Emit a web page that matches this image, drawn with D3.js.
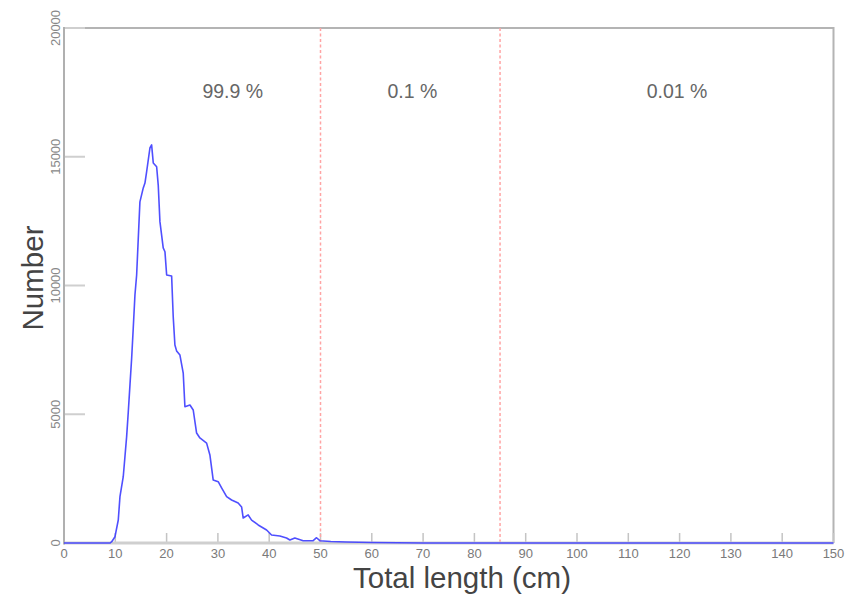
<!DOCTYPE html>
<html>
<head>
<meta charset="utf-8">
<script src="https://cdn.jsdelivr.net/npm/d3@7"></script>
<style>
  html, body { margin: 0; padding: 0; background: #fff; }
  svg { display: block; font-family: "Liberation Sans", Arial, sans-serif; }
</style>
</head>
<body>
<svg id="chart" width="851" height="600"></svg>
<script>
// ---- data ----
const lengthCm = [0, 9, 9.3, 9.94, 10.58, 10.91, 11.55, 11.88, 12.21, 12.53, 12.86, 13.19, 13.5, 13.83, 14.16,
  14.8, 15.45, 15.78, 16.11, 16.75, 17.08, 17.4, 18.06, 18.37, 18.7, 19.03, 19.34, 19.68, 20.01, 20.98,
  21.29, 21.62, 21.95, 22.6, 23.24, 23.57, 24.55, 25.19, 25.85, 26.49, 27.8, 28.44, 29.08, 30.06, 30.72,
  31.7, 32.67, 33.95, 34.62, 34.93, 35.9, 36.57, 37.85, 39.49, 40.46, 42.08, 43.38, 44.03, 45.0, 46.62,
  48.57, 49.23, 49.87, 52, 55, 60, 65, 70, 150];
const counts = [0, 0, 50, 245, 893, 1800, 2575, 3350, 4130, 5090, 6140, 7185, 8350, 9630, 10410,
  13250, 13790, 13980, 14420, 15340, 15460, 14760, 14610, 13900, 12480, 11960, 11460, 11310, 10410, 10370,
  8790, 7690, 7460, 7300, 6600, 5290, 5360, 5165, 4270, 4080, 3880, 3420, 2450, 2380, 2140,
  1800, 1670, 1550, 1400, 970, 1090, 890, 700, 505, 310, 270, 195, 115, 195, 90,
  90, 205, 90, 60, 40, 20, 10, 0, 0];
const xTickValues = [0, 10, 20, 30, 40, 50, 60, 70, 80, 90, 100, 110, 120, 130, 140, 150];
const yTickValues = [0, 5000, 10000, 15000, 20000];
const boundariesCm = [50, 85];
const regionLabels = ["99.9 %", "0.1 %", "0.01 %"];
const regionLabelAtCm = [32.9, 67.9, 119.5];
const xTitle = "Total length (cm)";
const yTitle = "Number";

// ---- layout ----
const svg = d3.select("#chart");
const mLeft = 64, mRight = 833.5, mTop = 28, mBottom = 543;

const x = d3.scaleLinear().domain([0, 150]).range([mLeft, mRight]);
const y = d3.scaleLinear().domain([0, 20000]).range([mBottom, mTop]);

// frame (top & right)
svg.append("path")
  .attr("d", `M${mLeft},${mTop}H${mRight}V${mBottom}`)
  .attr("fill", "none").attr("stroke", "#b4b4b4").attr("stroke-width", 2);

// inward y ticks
svg.append("g").selectAll("line").data(yTickValues).join("line")
  .attr("x1", mLeft).attr("x2", mLeft + 21)
  .attr("y1", d => y(d)).attr("y2", d => y(d))
  .attr("stroke", "#cfcfcf").attr("stroke-width", 2);

// inward x ticks
svg.append("g").selectAll("line").data(xTickValues).join("line")
  .attr("x1", d => x(d)).attr("x2", d => x(d))
  .attr("y1", mBottom).attr("y2", mBottom - 10)
  .attr("stroke", "#c4c4c4").attr("stroke-width", 1.5);

// boundaries
svg.append("g").selectAll("line").data(boundariesCm).join("line")
  .attr("x1", d => x(d)).attr("x2", d => x(d))
  .attr("y1", mTop).attr("y2", mBottom)
  .attr("stroke", "#ffa4a4").attr("stroke-width", 1.5)
  .attr("stroke-dasharray", "3,2.5");

// axis lines
svg.append("line").attr("x1", mLeft).attr("x2", mRight).attr("y1", mBottom).attr("y2", mBottom)
  .attr("stroke", "#cfcfcf").attr("stroke-width", 3);
svg.append("line").attr("x1", mLeft).attr("x2", mLeft).attr("y1", mTop - 1).attr("y2", mBottom + 1.5)
  .attr("stroke", "#b0b0b0").attr("stroke-width", 2);

// data line
const line = d3.line().x((d, i) => x(lengthCm[i])).y(d => y(d));
svg.append("path").datum(counts)
  .attr("d", line)
  .attr("fill", "none").attr("stroke", "#3c3cff").attr("stroke-width", 1.6)
  .attr("stroke-linejoin", "round").attr("stroke-opacity", 0.9);

// x tick labels
svg.append("g").selectAll("text").data(xTickValues).join("text")
  .attr("x", d => x(d)).attr("y", mBottom + 15)
  .attr("text-anchor", "middle").attr("font-size", 13).attr("fill", "#7a7a7a")
  .text(d => d);

// y tick labels (rotated)
svg.append("g").selectAll("text").data(yTickValues).join("text")
  .attr("transform", d => `translate(60,${y(d)}) rotate(-90)`)
  .attr("text-anchor", "middle").attr("font-size", 13).attr("fill", "#888")
  .text(d => d);

// region labels
svg.append("g").selectAll("text").data(regionLabels).join("text")
  .attr("x", (d, i) => x(regionLabelAtCm[i])).attr("y", 98)
  .attr("text-anchor", "middle").attr("font-size", 19.5).attr("fill", "#666")
  .text(d => d);

// axis titles
svg.append("text").attr("x", 462).attr("y", 588)
  .attr("text-anchor", "middle").attr("font-size", 29.5).attr("fill", "#444")
  .text(xTitle);
svg.append("text").attr("transform", `translate(43,278) rotate(-90)`)
  .attr("text-anchor", "middle").attr("font-size", 29.5).attr("fill", "#444")
  .text(yTitle);
</script>
</body>
</html>
